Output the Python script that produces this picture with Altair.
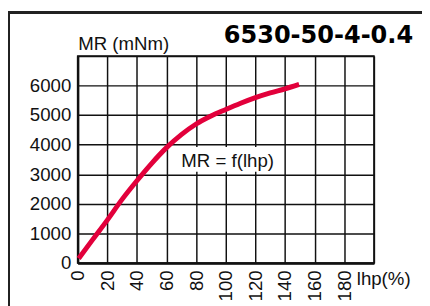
import altair as alt
import pandas as pd

# Curve data
lhp = [0.7, 10, 20, 30, 40, 50, 60, 70, 80, 90, 100, 110, 120, 130, 140, 149.5]
mr = [150, 780, 1450, 2150, 2780, 3370, 3900, 4340, 4700, 4970, 5190, 5400, 5590, 5750, 5890, 6040]

x_ticks = [0, 20, 40, 60, 80, 100, 120, 140, 160, 180, 200]
y_ticks = [0, 1000, 2000, 3000, 4000, 5000, 6000, 7000]

title_text = "6530-50-4-0.4"
y_title = "MR (mNm)"
x_title = "lhp(%)"
note_text = "MR = f(lhp)"

FONT = "Liberation Sans, Arial, Helvetica, sans-serif"
RED = "#e2003b"

df = pd.DataFrame({"lhp": lhp, "mr": mr})

xscale = alt.Scale(domain=[0, 200], nice=False, zero=True)
yscale = alt.Scale(domain=[0, 7000], nice=False, zero=True)

xaxis = alt.Axis(
    values=x_ticks, grid=True, ticks=False, labelAngle=270, labelPadding=7,
    format="d",
    labelExpr="datum.value == 200 ? '' : datum.label", labelFontSize=19,
    labelFont=FONT, labelColor="#111", labelFlush=False, labelOverlap=False,
    domainColor="#111", domainWidth=2.5, gridColor="#111", gridWidth=1.5,
    title=x_title, titleFont=FONT, titleFontSize=19, titleFontWeight="normal",
    titleColor="#111", titleX=284, titleY=21.5, titleAlign="left",
    titleBaseline="alphabetic", titleAngle=0,
)
yaxis = alt.Axis(
    values=y_ticks, grid=True, ticks=False, labelPadding=7,
    format="d",
    labelExpr="datum.value == 7000 ? '' : datum.label", labelFontSize=19,
    labelFont=FONT, labelColor="#111", labelFlush=False, labelOverlap=False,
    domainColor="#111", domainWidth=2.5, gridColor="#111", gridWidth=1.5,
    title=y_title, titleFont=FONT, titleFontSize=19, titleFontWeight="normal",
    titleColor="#111", titleX=0, titleY=-7, titleAlign="left",
    titleBaseline="alphabetic", titleAngle=0,
)

line = alt.Chart(df).mark_line(color=RED, strokeWidth=5, interpolate="monotone").encode(
    x=alt.X("lhp:Q", scale=xscale, axis=xaxis),
    y=alt.Y("mr:Q", scale=yscale, axis=yaxis),
)

note_df = pd.DataFrame({"x": [68], "x2": [137.5], "y": [3080], "y2": [3920],
                        "tx": [70], "ty": [3260], "label": [note_text]})
note_box = alt.Chart(note_df).mark_rect(color="white").encode(
    x=alt.X("x:Q", scale=xscale, axis=xaxis), x2="x2:Q",
    y=alt.Y("y:Q", scale=yscale, axis=yaxis), y2="y2:Q",
)
note = alt.Chart(note_df).mark_text(
    font=FONT, fontSize=19, color="#111", align="left", baseline="alphabetic"
).encode(
    x=alt.X("tx:Q", scale=xscale, axis=xaxis),
    y=alt.Y("ty:Q", scale=yscale, axis=yaxis),
    text="label:N",
)

frame_top = alt.Chart(df).mark_rule(color="#222", strokeWidth=2).encode(
    x=alt.value(-71), x2=alt.value(400), y=alt.value(-44.3)
)
frame_left = alt.Chart(df).mark_rule(color="#222", strokeWidth=2).encode(
    x=alt.value(-70), y=alt.value(-45.3), y2=alt.value(300)
)

title = alt.Chart(pd.DataFrame({"t": [title_text]})).mark_text(
    font="DejaVu Sans", fontWeight="bold", fontSize=24.5, color="#000",
    align="right", baseline="alphabetic"
).encode(x=alt.value(342), y=alt.value(-13.3), text="t:N")

chart = alt.layer(line, note_box, note, frame_top, frame_left, title).properties(
    width=302, height=211,
    autosize=alt.AutoSizeParams(type="none"),
    padding={"left": 71, "top": 46, "right": 49, "bottom": 41},
    background="white",
).configure_view(stroke="#111", strokeWidth=1.5)

chart.save("out.html", embed_options={"renderer": "svg", "actions": False})
